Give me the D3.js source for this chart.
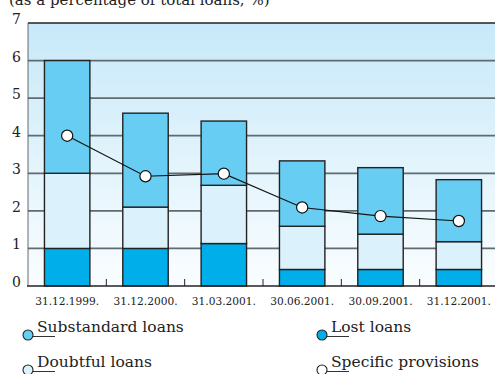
<!DOCTYPE html>
<html>
<head>
<meta charset="utf-8">
<script src="https://cdn.jsdelivr.net/npm/d3@7"></script>
<style>
  body { margin: 0; background: #fff; }
  svg { display: block; font-family: "DejaVu Serif", serif; }
</style>
</head>
<body>
<div id="chart"></div>
<script>
// DATA
const categories = ['31.12.1999.', '31.12.2000.', '31.03.2001.', '30.06.2001.', '30.09.2001.', '31.12.2001.'];
const lostLoans = [1.0, 1.0, 1.13, 0.44, 0.44, 0.44];
const doubtfulLoans = [2.0, 1.1, 1.55, 1.15, 0.94, 0.74];
const substandardLoans = [3.0, 2.5, 1.71, 1.74, 1.77, 1.65];
const specificProvisions = [4.0, 2.92, 2.99, 2.09, 1.86, 1.73];
const yTicks = [0, 1, 2, 3, 4, 5, 6, 7];
const titleText = '(as a percentage of total loans, %)';

// SETTINGS
const width = 495, height = 374;
const plot = { left: 28, right: 498, top: 23, bottom: 286 };
const colors = { lost: '#00aeea', doubtful: '#dbf1fb', substandard: '#68cdf3' };
const gridColor = '#5f6b70';
const edgeColor = '#222';

// SCALES
const x = d3.scaleBand()
  .domain(categories)
  .range([plot.left, plot.right])
  .paddingInner(0.42)
  .paddingOuter(0.21);

const y = d3.scaleLinear()
  .domain([0, 7])
  .range([plot.bottom, plot.top]);

const svg = d3.select('#chart').append('svg')
  .attr('width', width)
  .attr('height', height);

// BACKGROUND GRADIENT
const grad = svg.append('defs').append('linearGradient')
  .attr('id', 'bg')
  .attr('x1', 0).attr('y1', 0).attr('x2', 0).attr('y2', 1);
grad.append('stop').attr('offset', '0%').attr('stop-color', '#c7e9f9');
grad.append('stop').attr('offset', '100%').attr('stop-color', '#fafdff');

svg.append('rect')
  .attr('x', plot.left)
  .attr('y', y(7))
  .attr('width', width - plot.left)
  .attr('height', y(0) - y(7))
  .attr('fill', 'url(#bg)');

// TITLE (partly above the visible area, as in the source)
svg.append('text')
  .attr('x', 9)
  .attr('y', 5)
  .attr('font-size', 15)
  .attr('fill', '#222')
  .text(titleText);

// GRIDLINES
svg.append('g')
  .selectAll('line')
  .data(yTicks.filter(d => d > 0 && d < 7))
  .enter().append('line')
  .attr('x1', plot.left).attr('x2', width)
  .attr('y1', d => y(d)).attr('y2', d => y(d))
  .attr('stroke', gridColor)
  .attr('stroke-width', 1.8);

// top border
svg.append('line')
  .attr('x1', plot.left).attr('x2', width)
  .attr('y1', y(7)).attr('y2', y(7))
  .attr('stroke', edgeColor)
  .attr('stroke-width', 1.6);

// left border
svg.append('line')
  .attr('x1', plot.left).attr('x2', plot.left)
  .attr('y1', y(7)).attr('y2', y(0))
  .attr('stroke', '#444')
  .attr('stroke-width', 0.8);

// Y AXIS LABELS
const yAxis = d3.axisLeft(y)
  .tickValues(yTicks)
  .tickFormat(d3.format('d'))
  .tickSize(0)
  .tickPadding(0);

const yAxisGroup = svg.append('g')
  .attr('transform', `translate(21, 0)`)
  .call(yAxis);
yAxisGroup.select('.domain').remove();
yAxisGroup.selectAll('text')
  .attr('dy', 0)
  .attr('y', 0.5)
  .attr('font-family', '"DejaVu Serif", serif')
  .attr('font-size', 14)
  .attr('fill', '#222');

// STACKED BARS
const rows = categories.map((c, i) => ({
  cat: c,
  lost: lostLoans[i],
  doubtful: doubtfulLoans[i],
  substandard: substandardLoans[i]
}));
const stack = d3.stack().keys(['lost', 'doubtful', 'substandard']);
const series = stack(rows);

svg.append('g')
  .selectAll('g')
  .data(series)
  .enter().append('g')
  .attr('fill', d => colors[d.key])
  .selectAll('rect')
  .data(d => d)
  .enter().append('rect')
  .attr('x', d => x(d.data.cat))
  .attr('width', x.bandwidth())
  .attr('y', d => y(d[1]))
  .attr('height', d => y(d[0]) - y(d[1]))
  .attr('stroke', edgeColor)
  .attr('stroke-width', 1.4);

// X AXIS
svg.append('line')
  .attr('x1', plot.left - 1).attr('x2', width)
  .attr('y1', y(0)).attr('y2', y(0))
  .attr('stroke', edgeColor)
  .attr('stroke-width', 1.5);

// small ticks between bars
svg.append('g')
  .selectAll('line')
  .data(categories.slice(1))
  .enter().append('line')
  .attr('x1', d => x(d) - x.step() * x.paddingInner() / 2)
  .attr('x2', d => x(d) - x.step() * x.paddingInner() / 2)
  .attr('y1', y(0))
  .attr('y2', y(0) - 7)
  .attr('stroke', edgeColor)
  .attr('stroke-width', 1);

const xAxis = d3.axisBottom(x).tickSize(0).tickPadding(0);
const xAxisGroup = svg.append('g')
  .attr('transform', `translate(0, ${y(0)})`)
  .call(xAxis);
xAxisGroup.select('.domain').remove();
xAxisGroup.selectAll('text')
  .attr('dy', 0)
  .attr('y', 19)
  .attr('font-family', '"DejaVu Serif", serif')
  .attr('font-size', 10.6)
  .attr('fill', '#222');

// PROVISIONS LINE
const line = d3.line()
  .x((d, i) => x(categories[i]) + x.bandwidth() / 2)
  .y(d => y(d));

svg.append('path')
  .datum(specificProvisions)
  .attr('fill', 'none')
  .attr('stroke', '#111')
  .attr('stroke-width', 1.1)
  .attr('d', line);

svg.append('g')
  .selectAll('circle')
  .data(specificProvisions)
  .enter().append('circle')
  .attr('cx', (d, i) => x(categories[i]) + x.bandwidth() / 2)
  .attr('cy', d => y(d))
  .attr('r', 5.6)
  .attr('fill', '#fff')
  .attr('stroke', '#111')
  .attr('stroke-width', 1.2);

// LEGEND
const legendItems = [
  { label: 'Substandard loans', color: colors.substandard, x: 28, y: 335 },
  { label: 'Lost loans', color: colors.lost, x: 322, y: 335 },
  { label: 'Doubtful loans', color: colors.doubtful, x: 28, y: 370 },
  { label: 'Specific provisions', color: '#fff', x: 322, y: 370 }
];

const legend = svg.append('g')
  .selectAll('g')
  .data(legendItems)
  .enter().append('g')
  .attr('transform', d => `translate(${d.x}, ${d.y})`);

legend.append('line')
  .attr('x1', 0).attr('x2', 27)
  .attr('y1', 1.5).attr('y2', 1.5)
  .attr('stroke', '#333')
  .attr('stroke-width', 1);

legend.append('circle')
  .attr('r', 5)
  .attr('fill', d => d.color)
  .attr('stroke', '#222')
  .attr('stroke-width', 1.1);

legend.append('text')
  .attr('x', 9)
  .attr('y', -3)
  .attr('font-size', 15.5)
  .attr('fill', '#222')
  .text(d => d.label);
</script>
</body>
</html>
